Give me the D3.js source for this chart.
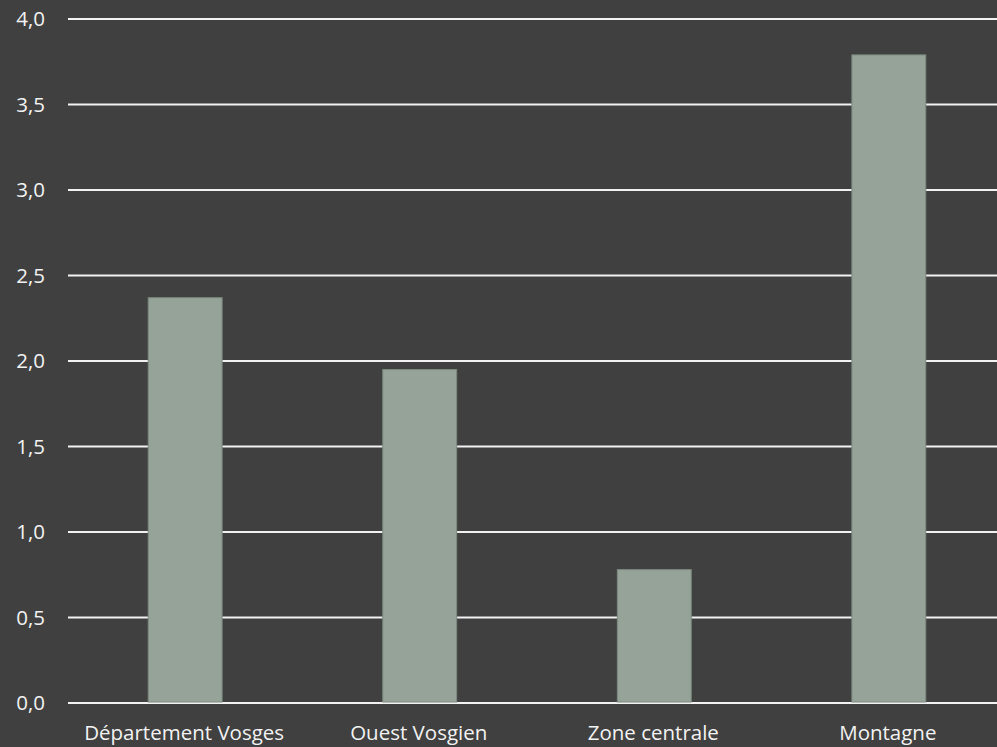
<!DOCTYPE html>
<html><head><meta charset="utf-8">
<script src="https://cdn.jsdelivr.net/npm/d3@7"></script>
<style>html,body{margin:0;padding:0;background:#404040;}</style>
</head><body>
<svg id="c" width="997" height="747"></svg>
<script>
const categories = ["Département Vosges", "Ouest Vosgien", "Zone centrale", "Montagne"];
const values = [2.37, 1.95, 0.78, 3.79];
const yTicks = [0, 0.5, 1, 1.5, 2, 2.5, 3, 3.5, 4];

const svg = d3.select("#c");
const W = 997, H = 747;
const m = {left: 68, top: 19, bottom: 44};
svg.append("rect").attr("width", W).attr("height", H).attr("fill", "#404040");

const x = d3.scaleBand().domain(categories).range([m.left, 1006]).paddingInner(0.685).paddingOuter(0.342);
const y = d3.scaleLinear().domain([0, 4]).range([H - m.bottom, m.top]);
const fmt = d => d3.format(".1f")(d).replace(".", ",");

const font = "'Open Sans', sans-serif";

// gridlines
svg.append("g").selectAll("line").data(yTicks).join("line")
  .attr("x1", m.left).attr("x2", W)
  .attr("y1", d => y(d)).attr("y2", d => y(d))
  .attr("stroke", "#f2f2f2").attr("stroke-width", 2);

// y labels
svg.append("g").selectAll("text").data(yTicks).join("text")
  .attr("x", 45).attr("y", d => y(d)).attr("dy", "0.36em")
  .attr("text-anchor", "end")
  .attr("font-family", font).attr("font-size", 20.5).attr("fill", "#f2f2f2")
  .text(fmt);

// bars
svg.append("g").selectAll("rect").data(values).join("rect")
  .attr("x", (d, i) => x(categories[i]))
  .attr("width", x.bandwidth())
  .attr("y", d => y(d))
  .attr("height", d => y(0) - y(d) - 1)
  .attr("fill", "#95a398")
  .attr("stroke", "#7d8a80").attr("stroke-width", 1);

// x labels
svg.append("g").selectAll("text").data(categories).join("text")
  .attr("x", d => x(d) + x.bandwidth() / 2 - 1).attr("y", 740)
  .attr("text-anchor", "middle")
  .attr("font-family", font).attr("font-size", 20.5).attr("fill", "#f2f2f2")
  .text(d => d);
</script>
</body></html>
